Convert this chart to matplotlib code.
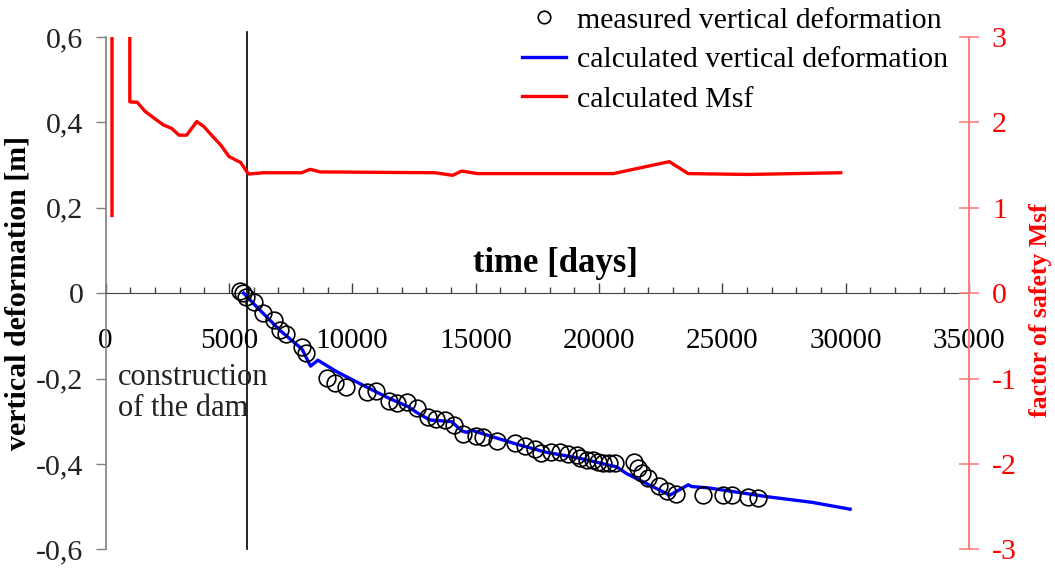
import matplotlib
matplotlib.use('Agg')
import matplotlib.pyplot as plt
from matplotlib.ticker import MultipleLocator, FuncFormatter
from matplotlib.lines import Line2D

# measured vertical deformation (circles)
meas_days = [5452, 5573, 5675, 6031, 6364, 6838, 7073, 7308, 7953, 8107,
             8958, 9290, 9728, 10600, 10976, 11503, 11827, 12233, 12638, 13084,
             13396, 13761, 14126, 14503, 15017, 15289, 15857, 16598, 17004, 17409,
             17640, 18045, 18422, 18759, 19099, 19233, 19504, 19748, 19975, 20177,
             20420, 20651, 21402, 21564, 21746, 21969, 22435, 22747, 23124, 24231,
             25042, 25394, 26035, 26460]
meas_def = [0.005, 0.0, -0.008, -0.020, -0.047, -0.063, -0.086, -0.096, -0.125, -0.141,
            -0.198, -0.210, -0.219, -0.232, -0.230, -0.252, -0.257, -0.255, -0.270, -0.290,
            -0.294, -0.298, -0.309, -0.329, -0.335, -0.338, -0.346, -0.352, -0.359, -0.366,
            -0.374, -0.372, -0.372, -0.376, -0.380, -0.387, -0.390, -0.391, -0.395, -0.397,
            -0.398, -0.398, -0.395, -0.409, -0.422, -0.432, -0.451, -0.463, -0.471, -0.473,
            -0.473, -0.473, -0.477, -0.479]

# calculated vertical deformation (blue line)
calc_days = [5600, 5990, 7070, 7965, 8310, 8610, 9370, 10450, 11410, 12270,
             12680, 13150, 14030, 14450, 14650, 14840, 15720, 16680, 17810, 19230,
             20720, 21130, 22760, 22880, 23620, 23760, 24420, 26850, 28640, 30180]
calc_def = [0.0, -0.024, -0.087, -0.131, -0.171, -0.157, -0.184, -0.216, -0.244, -0.266,
            -0.282, -0.297, -0.301, -0.323, -0.326, -0.321, -0.337, -0.354, -0.372, -0.387,
            -0.407, -0.423, -0.470, -0.473, -0.449, -0.453, -0.456, -0.477, -0.490, -0.506]

# calculated factor of safety (red line, right axis); 10 = off the chart
msf_days = [263, 263, 985, 985, 1290, 1600, 1965, 2345, 2680, 2980,
            3290, 3700, 3990, 4330, 4670, 5005, 5480, 5790, 6400, 7950,
            8290, 8700, 13360, 14070, 14440, 15070, 20580, 22850, 23620, 26050,
            29800]
msf = [0.91, 10, 10, 2.24, 2.235, 2.13, 2.05, 1.97, 1.93, 1.85,
       1.85, 2.01, 1.95, 1.84, 1.735, 1.60, 1.53, 1.395, 1.41, 1.41,
       1.45, 1.42, 1.41, 1.38, 1.43, 1.40, 1.40, 1.54, 1.40, 1.39,
       1.41]

dam_day = 5735


def comma_fmt(v, pos):
    if abs(v) < 1e-9:
        return '0'
    return f'{v:.1f}'.replace('.', ',')


def main():
    plt.rcParams['font.family'] = ['Liberation Serif', 'DejaVu Serif']
    plt.rcParams['axes.unicode_minus'] = False

    fig = plt.figure(figsize=(10.55, 5.69), dpi=100)
    ax = fig.add_axes([0.1, 0.0346, 0.8185, 0.9004])
    ax.set_xlim(0, 35000)
    ax.set_ylim(-0.6, 0.6)

    # axes styling: x-axis through y=0
    ax.spines['top'].set_visible(False)
    ax.spines['right'].set_visible(False)
    ax.spines['bottom'].set_position(('data', 0))
    ax.spines['bottom'].set_color('#404040')
    ax.spines['left'].set_color('#808080')
    ax.spines['left'].set_linewidth(1.2)

    ax.xaxis.set_major_locator(MultipleLocator(5000))
    ax.xaxis.set_minor_locator(MultipleLocator(1000))
    ax.tick_params(axis='x', which='major', direction='in', length=7, width=1,
                   color='#404040', pad=25, labelsize=21)
    ax.tick_params(axis='x', which='minor', direction='in', length=4.5, width=1,
                   color='#404040')
    ax.yaxis.set_major_locator(MultipleLocator(0.2))
    ax.yaxis.set_major_formatter(FuncFormatter(comma_fmt))
    ax.tick_params(axis='y', direction='out', length=7, width=1, color='#808080',
                   pad=9, labelsize=21.5, labelcolor='#222222')

    ax.set_ylabel('vertical deformation [m]', fontsize=21.5, fontweight='bold', labelpad=3)
    ax.text(18220, 0.07, 'time [days]', fontsize=25, fontweight='bold',
            ha='center', va='center')

    # dam construction marker
    ax.plot([dam_day, dam_day], [-0.6, 0.612], color='black', lw=1.2, clip_on=False)
    ax.text(500, -0.163, 'construction\nof the dam', fontsize=22, va='top', ha='left',
            linespacing=1.1, color='#222222')

    ax.plot(calc_days, calc_def, color='#0000ff', lw=2.4, zorder=3)
    ax.plot(meas_days, meas_def, 'o', mfc='none', mec='black', ms=12, mew=1.2, zorder=4)

    # right axis: factor of safety
    ax2 = ax.twinx()
    ax2.set_ylim(-3, 3)
    for s in ['top', 'left', 'bottom']:
        ax2.spines[s].set_visible(False)
    ax2.spines['right'].set_color('#ff8080')
    ax2.spines['right'].set_linewidth(1.5)
    ax2.yaxis.set_major_locator(MultipleLocator(1))
    ax2.tick_params(axis='y', direction='inout', length=15, width=1.2, color='#ff8080',
                    labelcolor='red', labelsize=21.5, pad=9)
    ax2.set_ylabel('factor of safety Msf', color='red', fontsize=18.5, fontweight='bold')
    ax2.yaxis.set_label_coords(1.0695, 0.467)
    ax2.plot(msf_days, msf, color='#ff0000', lw=2.4)

    handles = [
        Line2D([], [], marker='o', ls='none', mfc='none', mec='black', ms=9, mew=1.2),
        Line2D([], [], color='#0000ff', lw=2.4),
        Line2D([], [], color='#ff0000', lw=2.4),
    ]
    labels = ['measured vertical deformation', 'calculated vertical deformation',
              'calculated Msf']
    fig.legend(handles, labels, loc='upper left', bbox_to_anchor=(0.4915, 0.993),
               frameon=False, fontsize=21.5, handlelength=1.5, handletextpad=0.35,
               labelspacing=0.42, borderpad=0.1, borderaxespad=0)

    fig.savefig('out.png', dpi=100)
    plt.close(fig)


if __name__ == '__main__':
    main()
